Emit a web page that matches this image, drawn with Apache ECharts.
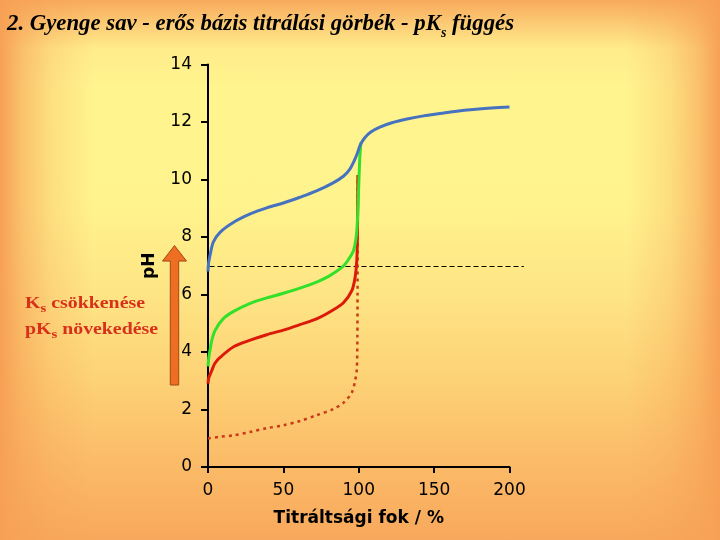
<!DOCTYPE html>
<html>
<head>
<meta charset="utf-8">
<script src="https://cdn.jsdelivr.net/npm/echarts@6/dist/echarts.min.js"></script>
<style>
html,body{margin:0;padding:0;width:720px;height:540px;overflow:hidden;}
#bg{position:absolute;left:0;top:0;width:720px;height:540px;
background:
 linear-gradient(to right, rgba(247,160,84,1) 0%, rgba(247,160,84,0.6) 3%, rgba(247,160,84,0.25) 7%, rgba(247,160,84,0) 13%, rgba(247,160,84,0) 87%, rgba(247,160,84,0.25) 93%, rgba(247,160,84,0.6) 97%, rgba(247,160,84,1) 100%),
 linear-gradient(to bottom, #F8AA5C 0%, #FCCF78 5%, #FFEC8A 9%, #FFF48E 16%, #FFF38D 38%, #FEE484 55%, #FDD276 70%, #FBBC68 85%, #F8A85C 100%);}
#chart{position:absolute;left:0;top:0;width:720px;height:540px;}
</style>
</head>
<body>
<div id="bg"></div>
<div id="chart"></div>
<script>
// ---- data (titration degree %, pH) ----
const titleText = ['2. Gyenge sav - erős bázis titrálási görbék - pK', 's', ' függés'];
const noteLine1 = ['K', 's', ' csökkenése'];
const noteLine2 = ['pK', 's', ' növekedése'];
const xAxisName = 'Titráltsági fok / %';
const yAxisName = 'pH';
const xTicks = [0, 50, 100, 150, 200];
const yTicks = [0, 2, 4, 6, 8, 10, 12, 14];

const curveBlue = [[0, 6.8], [0.4, 7.1], [1.3, 7.35], [3.5, 7.82], [8, 8.16], [17, 8.51], [28, 8.8], [39, 9.01],
  [50, 9.18], [61, 9.38], [72, 9.6], [83, 9.88], [90, 10.12], [94, 10.35], [97, 10.65], [99, 10.9], [101, 11.2],
  [104, 11.45], [108, 11.65], [114, 11.82], [122, 11.97], [132, 12.1], [143, 12.21], [154, 12.29], [165, 12.37],
  [176, 12.43], [188, 12.48], [200, 12.52]];
const curveGreen = [[0, 3.5], [0.5, 3.8], [1.3, 4.05], [2.5, 4.4], [4.6, 4.74], [10, 5.15], [17, 5.41], [28, 5.69],
  [39, 5.88], [50, 6.04], [61, 6.22], [72, 6.43], [80, 6.63], [86, 6.83], [90, 7.0], [93, 7.2], [96.5, 7.53],
  [98.5, 8.1], [99.5, 9.0], [100, 9.8], [100.5, 10.5], [101, 11.0], [101.5, 11.3]];
const curveRed = [[0, 2.9], [0.5, 3.1], [2.4, 3.34], [4.5, 3.6], [8, 3.81], [17, 4.18], [28, 4.41], [39, 4.6],
  [50, 4.76], [61, 4.95], [72, 5.15], [83, 5.46], [90, 5.72], [95.4, 6.13], [97.6, 6.6], [98.7, 7.18],
  [99.1, 8.0], [99.3, 9.0], [99.4, 10.15]];
const curveStrongAcid = [[0, 0.99], [8, 1.05], [17, 1.1], [28, 1.22], [39, 1.35], [50, 1.45], [61, 1.6], [72, 1.8],
  [83, 2.01], [90, 2.24], [95.4, 2.59], [97.6, 3.0], [98.7, 3.4], [99.1, 4.5], [99.2, 6], [99.3, 8], [99.4, 10.1]];
const neutralLine = [[1, 7], [209.5, 7]];
const arrowRangePH = [2.85, 7.7];

// ---- chart ----
const chart = echarts.init(document.getElementById('chart'), null, {renderer: 'canvas'});
const axisFont = 'DejaVu Sans';
const serif = 'Liberation Serif';

function textW(font, str) {
  const c = document.createElement('canvas').getContext('2d');
  c.font = font;
  return c.measureText(str).width;
}

const option = {
  backgroundColor: 'transparent',
  animation: false,
  grid: {left: 208, right: 210.5, top: 64.4, bottom: 73, containLabel: false},
  xAxis: {
    type: 'value', min: xTicks[0], max: xTicks[xTicks.length - 1], interval: xTicks[1] - xTicks[0],
    name: xAxisName, nameLocation: 'middle', nameGap: 43,
    nameTextStyle: {fontFamily: axisFont, fontWeight: 'bold', fontSize: 17, color: '#000'},
    axisLine: {onZero: false, lineStyle: {color: '#000', width: 2}},
    axisTick: {length: 6, lineStyle: {color: '#000', width: 2}},
    axisLabel: {margin: 15, fontFamily: axisFont, fontSize: 17, color: '#000'},
    splitLine: {show: false}
  },
  yAxis: {
    type: 'value', min: yTicks[0], max: yTicks[yTicks.length - 1], interval: yTicks[1] - yTicks[0],
    name: yAxisName, nameLocation: 'middle', nameGap: 50,
    nameTextStyle: {fontFamily: axisFont, fontWeight: 'bold', fontSize: 17, color: '#000'},
    axisLine: {show: true, onZero: false, lineStyle: {color: '#000', width: 2}},
    axisTick: {show: true, length: 7, lineStyle: {color: '#000', width: 2}},
    axisLabel: {margin: 16, fontFamily: axisFont, fontSize: 17, color: '#000'},
    splitLine: {show: false}
  },
  series: [
    {name: 'strong', type: 'line', data: curveStrongAcid, symbol: 'none', smooth: 0.3, silent: true, z: 2,
      lineStyle: {color: '#C83A1A', width: 2.5, type: [3, 4]}},
    {name: 'red', type: 'line', data: curveRed, symbol: 'none', smooth: 0.3, silent: true, z: 3,
      lineStyle: {color: '#DC1A0A', width: 3}},
    {name: 'green', type: 'line', data: curveGreen, symbol: 'none', smooth: 0.3, silent: true, z: 4,
      lineStyle: {color: '#33E02A', width: 3}},
    {name: 'blue', type: 'line', data: curveBlue, symbol: 'none', smooth: 0.3, silent: true, z: 5,
      lineStyle: {color: '#4672C0', width: 3}}
  ]
};
chart.setOption(option);

// ---- decorations: title, note, arrow, neutral line ----
function richText(parts, mainSize, subSize, lineH, italic, color) {
  const style = italic ? 'italic' : 'normal';
  return {
    text: '{m|' + parts[0] + '}{s|' + parts[1] + '}{m|' + parts[2] + '}',
    rich: {
      m: {fontFamily: serif, fontWeight: 'bold', fontStyle: style, fontSize: mainSize, lineHeight: lineH, fill: color},
      s: {fontFamily: serif, fontWeight: 'bold', fontStyle: style, fontSize: subSize, lineHeight: subSize, height: subSize, verticalAlign: 'bottom', fill: color}
    }
  };
}
function partsWidth(parts, mainSize, subSize, italic) {
  const st = italic ? 'italic ' : '';
  return textW(st + 'bold ' + mainSize + 'px "' + serif + '"', parts[0]) +
         textW(st + 'bold ' + subSize + 'px "' + serif + '"', parts[1]) +
         textW(st + 'bold ' + mainSize + 'px "' + serif + '"', parts[2]);
}

const titleScale = 507 / partsWidth(titleText, 23, 14, true);
const note1Scale = 120 / partsWidth(noteLine1, 16, 12, false);
const note2Scale = 133 / partsWidth(noteLine2, 16, 12, false);

const pBottom = chart.convertToPixel({gridIndex: 0}, [0, arrowRangePH[0]]);
const pTop = chart.convertToPixel({gridIndex: 0}, [0, arrowRangePH[1]]);
const cx = pBottom[0] - 33.5;
const shaftHalf = 4.2, headHalf = 12, headH = 15.5;
const yb = pBottom[1], yt = pTop[1];

const nA = chart.convertToPixel({gridIndex: 0}, neutralLine[0]);
const nB = chart.convertToPixel({gridIndex: 0}, neutralLine[1]);

chart.setOption({
  graphic: [
    {type: 'line', silent: true, z: 1,
      shape: {x1: nA[0], y1: Math.round(nA[1]) + 0.5, x2: nB[0], y2: Math.round(nB[1]) + 0.5},
      style: {stroke: '#000', lineWidth: 1, lineDash: [5, 3]}},
    {type: 'text', x: 7, y: 8, scaleX: titleScale, silent: true,
      style: Object.assign(richText(titleText, 23, 14, 32, true, '#000'), {x: 0, y: 0})},
    {type: 'text', x: 25, y: 292.6, scaleX: note1Scale, silent: true,
      style: Object.assign(richText(noteLine1, 16, 12, 22, false, '#D8301A'), {x: 0, y: 0})},
    {type: 'text', x: 25, y: 318.6, scaleX: note2Scale, silent: true,
      style: Object.assign(richText(noteLine2, 16, 12, 22, false, '#D8301A'), {x: 0, y: 0})},
    {type: 'polygon', silent: true,
      shape: {points: [[cx - shaftHalf, yb], [cx - shaftHalf, yt + headH], [cx - headHalf, yt + headH], [cx, yt],
        [cx + headHalf, yt + headH], [cx + shaftHalf, yt + headH], [cx + shaftHalf, yb]]},
      style: {fill: '#EE6E22', stroke: '#A04A18', lineWidth: 1}}
  ]
});
</script>
</body>
</html>
